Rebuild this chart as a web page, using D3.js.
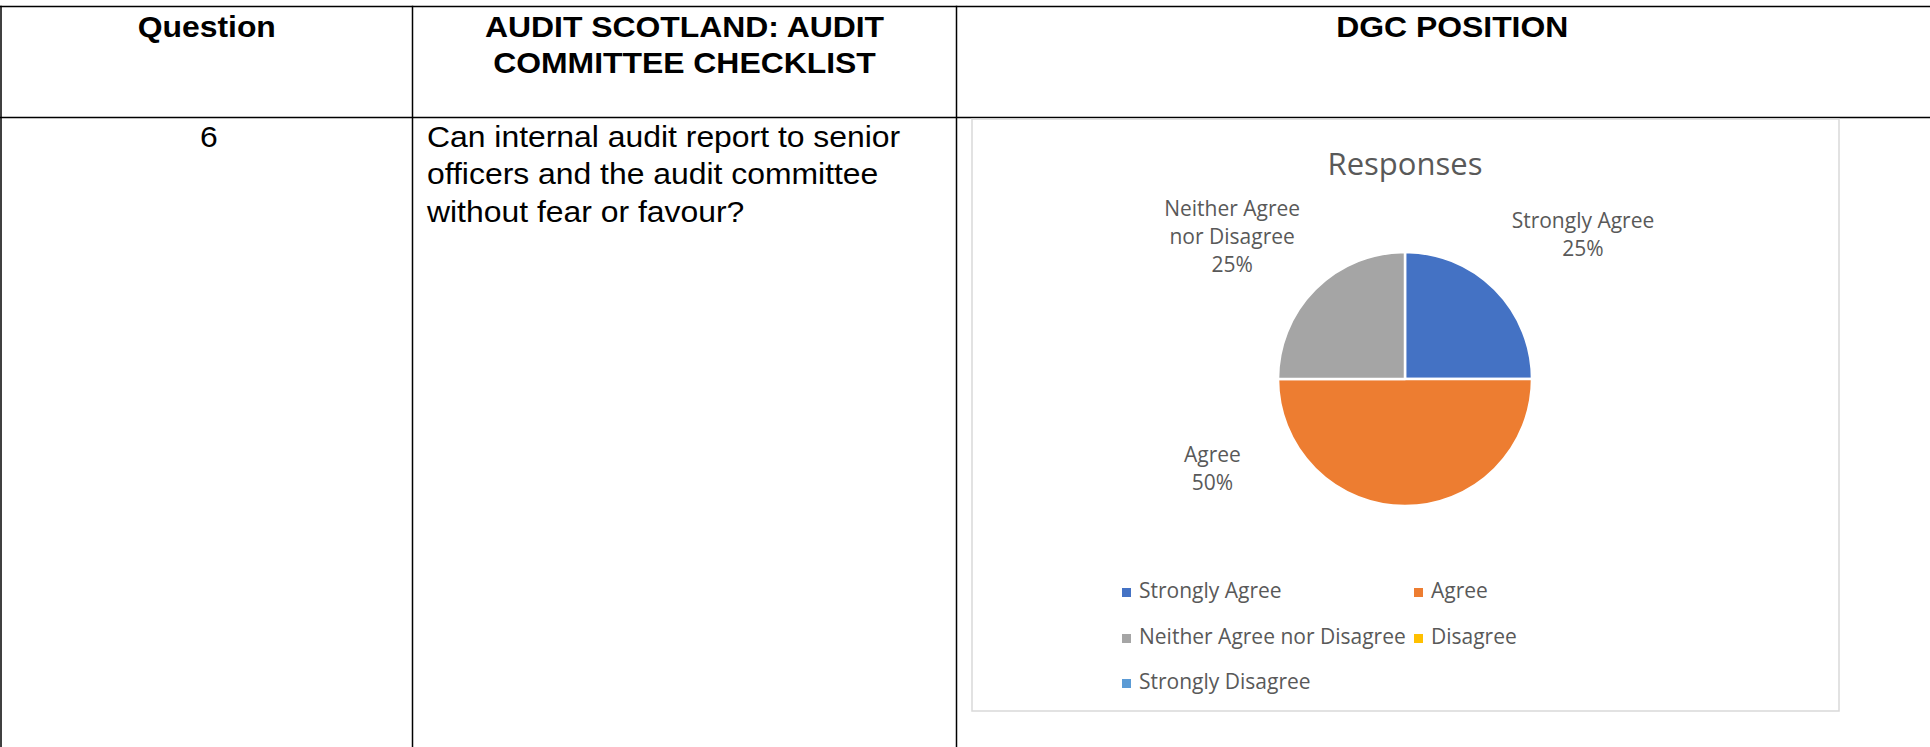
<!DOCTYPE html>
<html>
<head>
<meta charset="utf-8">
<script src="https://cdn.jsdelivr.net/npm/d3@7"></script>
<style>
  html, body { margin: 0; padding: 0; background: #fff; }
  svg { display: block; }
</style>
</head>
<body>
<svg id="chart" width="1930" height="747"></svg>
<script>
// ---- data ----
const headers = ["Question", "AUDIT SCOTLAND: AUDIT\nCOMMITTEE CHECKLIST", "DGC POSITION"];
const questionNumber = "6";
const questionLines = ["Can internal audit report to senior", "officers and the audit committee", "without fear or favour?"];
const chartTitle = "Responses";
const categories = ["Strongly Agree", "Agree", "Neither Agree nor Disagree", "Disagree", "Strongly Disagree"];
const values = [25, 50, 25, 0, 0];
const labelLines = [["Strongly Agree"], ["Agree"], ["Neither Agree", "nor Disagree"], ["Disagree"], ["Strongly Disagree"]];
const colors = ["#4472C4", "#ED7D31", "#A5A5A5", "#FFC000", "#5B9BD5"];

// ---- layout (styling) ----
const W = 1930, H = 747;
const colX = [1, 412.5, 956.5, 1948];
const topY = 6.5, headY = 117.5;
const box = {x: 972, y: 119, w: 867, h: 592};
const pieC = {x: 1405, y: 379}, R = 127;
// best-fit label placement (angle clockwise from 12 o'clock in degrees, distance to block centre)
const labelPlace = [[51, 229], [245, 212.5], [-50.5, 224], [0, 0], [0, 0]];
const gray = "#595959";
const stretch = 1.1;   // table text is drawn slightly wide in the source document
const tableFont = "'Liberation Sans', Arial, sans-serif";

const svg = d3.select("#chart");

// ---- table ----
const g = svg.append("g");
g.append("line").attr("x1", 0).attr("x2", W).attr("y1", topY).attr("y2", topY).attr("stroke", "#000").attr("stroke-width", 1.5);
g.append("line").attr("x1", 0).attr("x2", W).attr("y1", headY).attr("y2", headY).attr("stroke", "#000").attr("stroke-width", 1.5);
colX.slice(0, 3).forEach(x => {
  g.append("line").attr("x1", x).attr("x2", x).attr("y1", topY - 0.75).attr("y2", H).attr("stroke", "#000").attr("stroke-width", 1.5);
});

headers.forEach((h, i) => {
  const cx = (colX[i] + colX[i + 1]) / 2;
  const t = g.append("text").attr("transform", `translate(${cx},0) scale(${stretch},1)`)
    .attr("text-anchor", "middle")
    .attr("font-family", tableFont).attr("font-weight", "bold")
    .attr("font-size", 29).attr("fill", "#000");
  h.split("\n").forEach((line, j) => {
    t.append("tspan").attr("x", 0).attr("y", 37 + j * 36).text(line);
  });
});

g.append("text").attr("transform", `translate(${(colX[0] + colX[1]) / 2 + 2},0) scale(${stretch},1)`)
  .attr("x", 0).attr("y", 147).attr("text-anchor", "middle")
  .attr("font-family", tableFont).attr("font-size", 29).text(questionNumber);

const qt = g.append("text").attr("transform", `translate(427,0) scale(${stretch},1)`)
  .attr("font-family", tableFont).attr("font-size", 29).attr("fill", "#000");
questionLines.forEach((l, j) => qt.append("tspan").attr("x", 0).attr("y", 147 + j * 37.5).text(l));

// ---- chart box ----
svg.append("rect").attr("x", box.x).attr("y", box.y).attr("width", box.w).attr("height", box.h)
  .attr("fill", "#fff").attr("stroke", "#d9d9d9").attr("stroke-width", 1.5);

const font = "'Open Sans', 'Noto Sans', sans-serif";
svg.append("text").attr("x", pieC.x).attr("y", 175).attr("text-anchor", "middle")
  .attr("font-family", font).attr("font-size", 31).attr("fill", gray).text(chartTitle);

// ---- pie ----
const data = categories.map((c, i) => ({cat: c, value: values[i], i}));
const pie = d3.pie().sort(null).value(d => d.value);
const arcs = pie(data);
const arc = d3.arc().innerRadius(0).outerRadius(R);
const color = d3.scaleOrdinal().domain(categories).range(colors);

const pg = svg.append("g").attr("transform", `translate(${pieC.x},${pieC.y})`);
pg.selectAll("path").data(arcs.filter(a => a.data.value > 0)).join("path")
  .attr("d", arc).attr("fill", d => color(d.data.cat))
  .attr("stroke", "#fff").attr("stroke-width", 2.5).attr("stroke-linejoin", "round");

// ---- data labels ----
const fmt = d3.format(".0%");
const total = d3.sum(values);
arcs.filter(a => a.data.value > 0).forEach(a => {
  const [deg, dist] = labelPlace[a.data.i];
  const rad = deg * Math.PI / 180;
  const cx = Math.sin(rad) * dist, cy = -Math.cos(rad) * dist;
  const lines = labelLines[a.data.i].concat([fmt(a.data.value / total)]);
  const lh = 28;
  const t = pg.append("text").attr("text-anchor", "middle").attr("font-family", font)
    .attr("font-size", 21).attr("fill", gray);
  lines.forEach((l, j) => {
    t.append("tspan").attr("x", cx)
      .attr("y", cy + (j - (lines.length - 1) / 2) * lh + 7.5).text(l);
  });
});

// ---- legend ----
const legX = [1122, 1414], legY = [598, 644, 689];
const lg = svg.append("g");
categories.forEach((c, i) => {
  const col = i % 2, row = Math.floor(i / 2);
  const x = legX[col], y = legY[row];
  lg.append("rect").attr("x", x).attr("y", y - 10).attr("width", 9).attr("height", 9).attr("fill", color(c));
  lg.append("text").attr("x", x + 17).attr("y", y).attr("font-family", font).attr("font-size", 21)
    .attr("fill", gray).text(c);
});
</script>
</body>
</html>
